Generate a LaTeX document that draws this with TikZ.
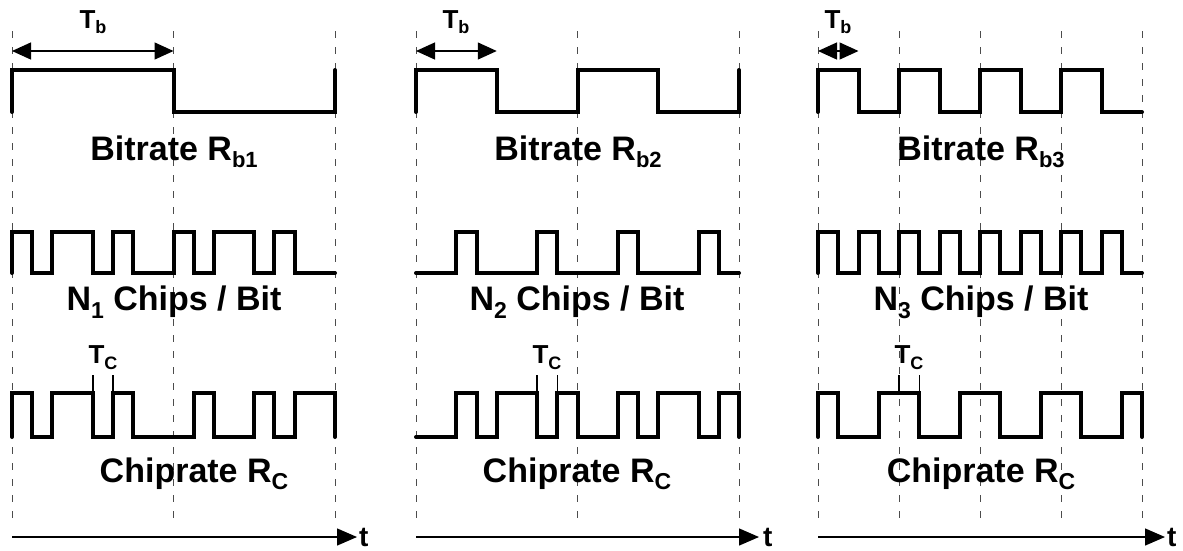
\documentclass[tikz,border=0pt]{standalone}
\usepackage{fontspec}
\setmainfont{Liberation Sans}
\usetikzlibrary{arrows.meta}
\newcommand{\lowsub}[3]{\raisebox{-#3pt}{\fontsize{#1}{#1}\selectfont #2}}
\tikzset{
  wave/.style={line width=4pt, line cap=round, line join=miter},
  guide/.style={line width=1pt, draw=black!70, dash pattern=on 7pt off 9pt},
  span/.style={line width=1.3pt, {Triangle[length=19pt,width=17pt]}-{Triangle[length=19pt,width=17pt]}},
  axis/.style={line width=1.3pt, -{Triangle[length=20pt,width=17pt]}},
  tcmark/.style={line width=1.5pt},
  big/.style={inner sep=0pt, anchor=base, font=\fontsize{34}{34}\selectfont\bfseries},
  mid/.style={inner sep=0pt, anchor=base, font=\fontsize{26}{26}\selectfont\bfseries},
  tlab/.style={inner sep=0pt, anchor=base west, font=\fontsize{28}{28}\selectfont\bfseries}
}
\begin{document}
\begin{tikzpicture}[x=1pt,y=-1pt]
\useasboundingbox (0,0) rectangle (1183,550);
% guides
\foreach \gx in {12,173.5,335,416,577.5,739,818,899,980,1061,1142}
  \draw[guide] (\gx,31) -- (\gx,527);
% Tb arrows
\coordinate (a1l) at (12,51); \coordinate (a1r) at (173.5,51);
\coordinate (a2l) at (416,51); \coordinate (a2r) at (496.75,51);
\coordinate (a3l) at (818,51); \coordinate (a3r) at (858.5,51);
\draw[span] (a1l) -- (a1r);
\draw[span] (a2l) -- (a2r);
\draw[span] (a3l) -- (a3r);
\node[mid] (tb1) at (93,28) {T\lowsub{18}{b}{5}};
\node[mid] (tb2) at (456,28) {T\lowsub{18}{b}{5}};
\node[mid] (tb3) at (838,28) {T\lowsub{18}{b}{5}};
% bitrate waveforms
\draw[wave] (12,112) |- (173.5,70) |- (335,112) -- (335,70);
\draw[wave] (416,112) |- (496.75,70) |- (577.5,112) |- (658.25,70) |- (739,112) -- (739,70);
\draw[wave] (818,112) |- (858.5,70) |- (899,112) |- (939.5,70) |- (980,112) |- (1020.5,70) |- (1061,112) |- (1101.5,70) |- (1142,112);
\node[big] (br1) at (174,160) {Bitrate R\lowsub{22}{b1}{7}};
\node[big] (br2) at (578,160) {Bitrate R\lowsub{22}{b2}{7}};
\node[big] (br3) at (981,160) {Bitrate R\lowsub{22}{b3}{7}};
% chip codes
\draw[wave] (12,273) |- (32.19,232) |- (52.38,273) |- (92.75,232) |- (112.94,273) |- (133.13,232) |- (173.5,273) |- (193.69,232) |- (213.88,273) |- (254.25,232) |- (274.44,273) |- (294.63,232) |- (335,273);
\draw[wave] (416,273) -- (456.38,273) |- (476.56,232) |- (537.13,273) |- (557.31,232) |- (617.88,273) |- (638.06,232) |- (698.63,273) |- (718.81,232) |- (739,273);
\draw[wave] (818,273) |- (838.25,232) |- (858.5,273) |- (878.75,232) |- (899,273) |- (919.25,232) |- (939.5,273) |- (959.75,232) |- (980,273) |- (1000.25,232) |- (1020.5,273) |- (1040.75,232) |- (1061,273) |- (1081.25,232) |- (1101.5,273) |- (1121.75,232) |- (1142,273);
\node[big] (cb1) at (174,310) {N\lowsub{23}{1}{8} Chips / Bit};
\node[big] (cb2) at (577,310) {N\lowsub{23}{2}{8} Chips / Bit};
\node[big] (cb3) at (981,310) {N\lowsub{23}{3}{8} Chips / Bit};
% chiprate waveforms
\draw[wave] (12,437) |- (32.19,393) |- (52.38,437) |- (92.75,393) |- (112.94,437) |- (133.13,393) |- (193.69,437) |- (213.88,393) |- (254.25,437) |- (274.44,393) |- (294.63,437) |- (335,393) -- (335,437);
\draw[wave] (416,437) -- (456.38,437) |- (476.56,393) |- (496.75,437) |- (537.13,393) |- (557.31,437) |- (577.5,393) |- (617.88,437) |- (638.06,393) |- (658.25,437) |- (698.63,393) |- (718.81,437) |- (739,393) -- (739,437);
\draw[wave] (818,437) |- (838.25,393) |- (878.75,437) |- (919.25,393) |- (959.75,437) |- (1000.25,393) |- (1040.75,437) |- (1081.25,393) |- (1121.75,437) |- (1142,393) -- (1142,437);
% Tc markers
\foreach \mx in {92.75,112.94,537.13,557.31,899,919.25}
  \draw[tcmark] (\mx,375) -- (\mx,393);
\node[mid] (tc1) at (103,363) {T\lowsub{18}{C}{6}};
\node[mid] (tc2) at (547,363) {T\lowsub{18}{C}{6}};
\node[mid] (tc3) at (909,363) {T\lowsub{18}{C}{6}};
\node[big] (cr1) at (194,482) {Chiprate R\lowsub{23}{C}{7}};
\node[big] (cr2) at (577,482) {Chiprate R\lowsub{23}{C}{7}};
\node[big] (cr3) at (981,482) {Chiprate R\lowsub{23}{C}{7}};
% time axes
\coordinate (t1s) at (12,537); \coordinate (t1e) at (357,537);
\coordinate (t2s) at (416,537); \coordinate (t2e) at (759,537);
\coordinate (t3s) at (818,537); \coordinate (t3e) at (1165,537);
\draw[axis] (t1s) -- (t1e);
\draw[axis] (t2s) -- (t2e);
\draw[axis] (t3s) -- (t3e);
\node[tlab] (tl1) at (359,546) {t};
\node[tlab] (tl2) at (763,546) {t};
\node[tlab] (tl3) at (1167,546) {t};
\end{tikzpicture}
\end{document}
